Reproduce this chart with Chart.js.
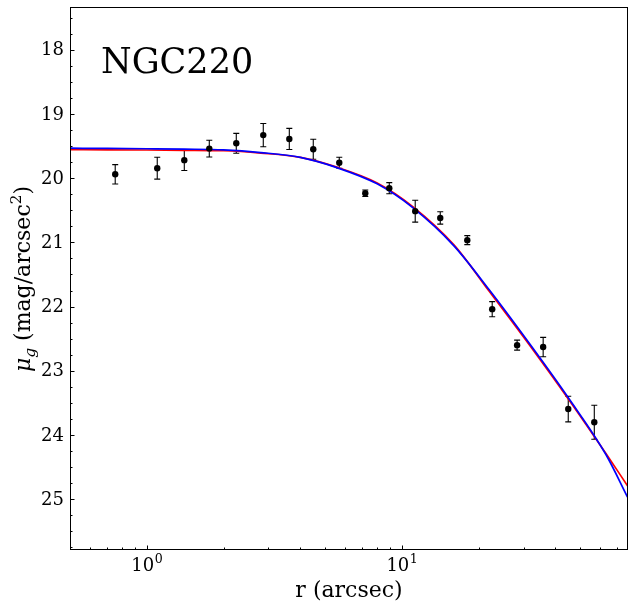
<!DOCTYPE html>
<html>
<head>
<meta charset="utf-8">
<script src="https://cdn.jsdelivr.net/npm/chart.js@4.4.1/dist/chart.umd.min.js"></script>
<style>
  body { margin: 0; background: #fff; }
  canvas { display: block; }
</style>
</head>
<body>
<canvas id="grafico" width="634" height="608"></canvas>
<script>
// measured profile (points with error bars)
const rPoints = [0.752, 1.099, 1.403, 1.758, 2.243, 2.862, 3.62, 4.494, 5.683, 7.187,
  8.925, 11.28, 14.14, 18.05, 22.6, 28.3, 35.8, 44.9, 56.8];
const muPoints = [19.94, 19.845, 19.72, 19.54, 19.457, 19.33, 19.39, 19.55, 19.76, 20.235,
  20.156, 20.514, 20.62, 20.965, 22.04, 22.60, 22.63, 23.595, 23.80];
const muErr = [0.15, 0.17, 0.16, 0.13, 0.155, 0.18, 0.165, 0.155, 0.086, 0.05,
  0.086, 0.17, 0.096, 0.07, 0.117, 0.078, 0.15, 0.2, 0.265];

// model curves
const rModel = [0.5, 0.7, 1, 1.4, 2, 2.8, 4, 5.6, 8, 11, 16, 22, 32, 45, 63, 77];
const muRed = [19.557, 19.559, 19.562, 19.566, 19.573, 19.61, 19.677, 19.833, 20.074, 20.439,
  21.039, 21.762, 22.626, 23.443, 24.285, 24.80];
const muBlue = [19.534, 19.537, 19.542, 19.548, 19.56, 19.602, 19.677, 19.84, 20.089, 20.455,
  21.054, 21.739, 22.603, 23.424, 24.299, 24.98];

// axes
const yTicks = [18, 19, 20, 21, 22, 23, 24, 25];
const xTicks = [1, 10];
const xTickExp = ["0", "1"];
const xMinorTicks = [0.5, 0.6, 0.7, 0.8, 0.9, 2, 3, 4, 5, 6, 7, 8, 9, 20, 30, 40, 50, 60, 70];
const galaxyName = "NGC220";

const SERIF = "'DejaVu Serif', 'Liberation Serif', serif";

function pares(xs, ys) {
  return xs.map((x, i) => ({ x: x, y: ys[i] }));
}

// error bars, ticks, frame and texts
const eixosPlugin = {
  id: "eixos",
  beforeDatasetsDraw(chart) {
    const ctx = chart.ctx;
    const sx = chart.scales.x, sy = chart.scales.y;
    ctx.save();
    ctx.strokeStyle = "#000";
    ctx.lineWidth = 1.1;
    rPoints.forEach((r, i) => {
      const px = sx.getPixelForValue(r);
      const y1 = sy.getPixelForValue(muPoints[i] - muErr[i]);
      const y2 = sy.getPixelForValue(muPoints[i] + muErr[i]);
      ctx.beginPath();
      ctx.moveTo(px, y1); ctx.lineTo(px, y2);
      ctx.moveTo(px - 3, y1); ctx.lineTo(px + 3, y1);
      ctx.moveTo(px - 3, y2); ctx.lineTo(px + 3, y2);
      ctx.stroke();
    });
    ctx.restore();
  },
  afterDraw(chart) {
    const ctx = chart.ctx;
    const a = chart.chartArea;
    const sx = chart.scales.x, sy = chart.scales.y;
    ctx.save();
    ctx.strokeStyle = "#000";
    ctx.fillStyle = "#000";
    ctx.lineWidth = 1;

    // ticks pointing inwards
    ctx.beginPath();
    yTicks.forEach(v => {
      const py = Math.round(sy.getPixelForValue(v)) + 0.5;
      ctx.moveTo(a.left, py); ctx.lineTo(a.left + 4.5, py);
    });
    for (let v = 17.5; v < 25.8; v += 0.25) {
      if (Number.isInteger(v)) continue;
      const py = Math.round(sy.getPixelForValue(v)) + 0.5;
      ctx.moveTo(a.left, py); ctx.lineTo(a.left + 2.5, py);
    }
    xTicks.forEach(v => {
      const px = Math.round(sx.getPixelForValue(v)) + 0.5;
      ctx.moveTo(px, a.bottom); ctx.lineTo(px, a.bottom - 4.5);
    });
    xMinorTicks.forEach(v => {
      const px = Math.round(sx.getPixelForValue(v)) + 0.5;
      ctx.moveTo(px, a.bottom); ctx.lineTo(px, a.bottom - 2.5);
    });
    ctx.stroke();

    // frame
    ctx.strokeRect(a.left + 0.5, a.top + 0.5, a.right - a.left - 1, a.bottom - a.top - 1);

    // y tick labels
    ctx.font = "18px " + SERIF;
    ctx.textAlign = "right";
    ctx.textBaseline = "middle";
    yTicks.forEach(v => {
      ctx.fillText(String(v), a.left - 6, sy.getPixelForValue(v) + 1);
    });

    // x tick labels (10^n)
    ctx.textBaseline = "alphabetic";
    ctx.textAlign = "left";
    xTicks.forEach((v, i) => {
      const px = sx.getPixelForValue(v);
      ctx.font = "18px " + SERIF;
      const wb = ctx.measureText("10").width;
      ctx.font = "12.6px " + SERIF;
      const we = ctx.measureText(xTickExp[i]).width;
      const x0 = px - (wb + we) / 2;
      ctx.font = "18px " + SERIF;
      ctx.fillText("10", x0, 571);
      ctx.font = "12.6px " + SERIF;
      ctx.fillText(xTickExp[i], x0 + wb + 0.5, 563);
    });

    // x title
    ctx.font = "22px " + SERIF;
    ctx.textAlign = "center";
    ctx.fillText("r (arcsec)", (a.left + a.right) / 2, 597);

    // y title with sub/superscript
    const partes = [
      { t: "\u03bc", f: "italic 22px " + SERIF, dy: 0 },
      { t: "g", f: "italic 15.4px " + SERIF, dy: 5 },
      { t: " (mag/arcsec", f: "22px " + SERIF, dy: 0 },
      { t: "2", f: "15.4px " + SERIF, dy: -9 },
      { t: ")", f: "22px " + SERIF, dy: 0 }
    ];
    let total = 0;
    partes.forEach(p => { ctx.font = p.f; p.w = ctx.measureText(p.t).width; total += p.w; });
    ctx.translate(30, 279);
    ctx.rotate(-Math.PI / 2);
    ctx.textAlign = "left";
    let cx = -total / 2;
    partes.forEach(p => {
      ctx.font = p.f;
      ctx.fillText(p.t, cx, p.dy);
      cx += p.w;
    });
    ctx.setTransform(1, 0, 0, 1, 0, 0);

    // galaxy name
    ctx.font = "35px " + SERIF;
    ctx.textAlign = "left";
    ctx.fillText(galaxyName, 101, 73);
    ctx.restore();
  }
};

const ctx = document.getElementById("grafico").getContext("2d");
new Chart(ctx, {
  type: "scatter",
  data: {
    datasets: [
      {
        label: "dados",
        data: pares(rPoints, muPoints),
        backgroundColor: "#000",
        borderColor: "#000",
        pointRadius: 3.2,
        pointBorderWidth: 0,
        showLine: false
      },
      {
        label: "modelo azul",
        data: pares(rModel, muBlue),
        showLine: true,
        borderColor: "#0000ff",
        borderWidth: 1.7,
        pointRadius: 0,
        cubicInterpolationMode: "monotone"
      },
      {
        label: "modelo vermelho",
        data: pares(rModel, muRed),
        showLine: true,
        borderColor: "#ff0000",
        borderWidth: 1.7,
        pointRadius: 0,
        cubicInterpolationMode: "monotone"
      }
    ]
  },
  options: {
    responsive: false,
    animation: false,
    layout: { padding: { left: 70, top: 7, right: 6, bottom: 58 } },
    plugins: {
      legend: { display: false },
      tooltip: { enabled: false }
    },
    scales: {
      x: { type: "logarithmic", min: 0.5, max: 77, display: false },
      y: { type: "linear", reverse: true, min: 17.335, max: 25.79, display: false }
    }
  },
  plugins: [eixosPlugin]
});
</script>
</body>
</html>
